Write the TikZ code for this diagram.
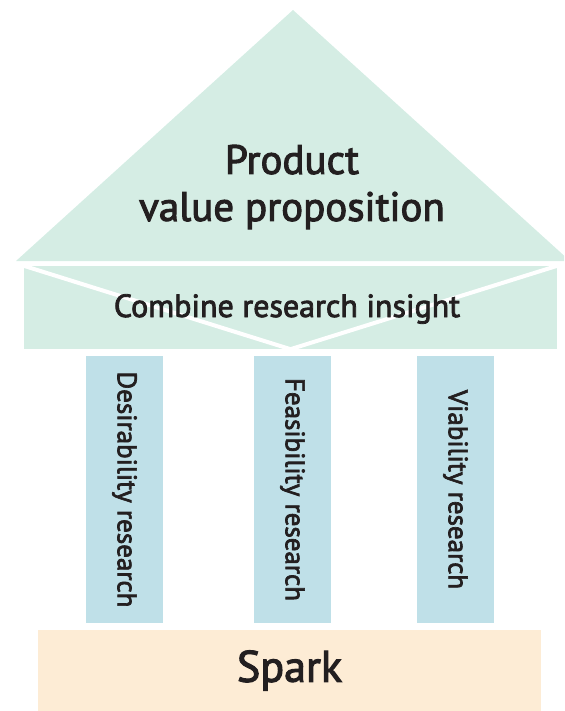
\documentclass[tikz,border=0pt]{standalone}
\usepackage{fontspec}
\setmainfont{PT Sans}[FakeBold=2.5,UprightFeatures={FakeBold=2.5}]
\definecolor{roofmint}{RGB}{213,237,228}
\definecolor{pillarblue}{RGB}{191,224,232}
\definecolor{sparkpeach}{RGB}{253,236,213}
\definecolor{ink}{RGB}{35,31,32}

\begin{document}
\begin{tikzpicture}[x=1pt, y=-1pt,
        label/.style={text=ink, inner sep=0pt},
        pillar/.style={fill=pillarblue, text=ink, rotate=-90, minimum width=267pt, minimum height=77pt, inner sep=0pt, font=\fontsize{27}{30}\selectfont}]
        \useasboundingbox (0,0) rectangle (564,711);
        \clip (0,0) rectangle (564,711);

        % Roof
        \fill[roofmint] (16,261) -- (293,10) -- (570,261) -- cycle;
        \node[label, align=center, font=\fontsize{41}{47}\selectfont] (roof) at (292,187) {Product\\value proposition};

        % Beam with the white V
        \node[fill=roofmint, minimum width=533pt, minimum height=83pt, inner sep=0pt] (beam) at (290.5,307.5) {};
        \draw[white, line width=4pt] (beam.north west) -- (beam.south) -- (beam.north east);
        \node[label, anchor=base, font=\fontsize{32}{36}\selectfont] (combine) at (287,317) {Combine research insight};

        % Pillars
        \node[pillar] (desire) at (124.5,489.5) {Desirability research};
        \node[pillar] (feasible) at (292.5,489.5) {Feasibility research};
        \node[pillar] (viable) at (455.5,489.5) {Viability research};

        % Base
        \node[fill=sparkpeach, text=ink, minimum width=503pt, minimum height=81pt, inner sep=0pt, font=\fontsize{44}{48}\selectfont] (spark) at (289.5,670.5) {Spark};

    \end{tikzpicture}
\end{document}
